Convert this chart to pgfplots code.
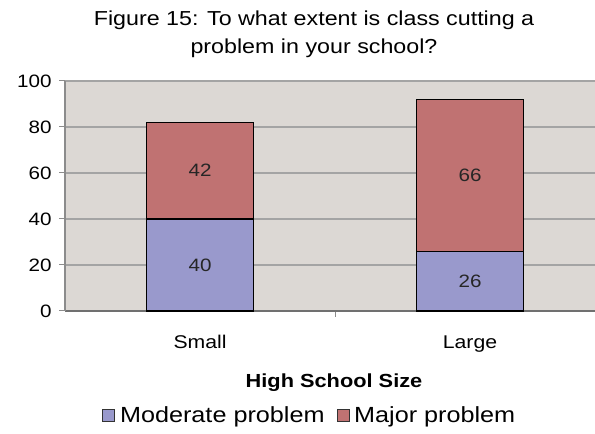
\documentclass[border=0pt]{standalone}
\usepackage{pgfplots}
\pgfplotsset{compat=1.18}
\usepackage{fontspec}
\setmainfont{Liberation Sans}[FakeStretch=1.15]
\definecolor{modc}{HTML}{9999CC}
\definecolor{majc}{HTML}{C07272}
\definecolor{bgc}{HTML}{DCD8D4}
\definecolor{gridc}{HTML}{A4A4A4}
\definecolor{axc}{HTML}{8C8C8C}
\begin{document}
\begin{tikzpicture}[x=1bp,y=1bp]
\useasboundingbox (0,0) rectangle (595,434);
\begin{axis}[
  at={(65bp,123bp)}, anchor=south west,
  scale only axis, width=530bp, height=230bp,
  xmin=-0.5, xmax=1.463, ymin=0, ymax=100,
  ybar stacked, bar width=107bp,
  axis background/.style={fill=bgc},
  axis x line*=bottom, axis y line*=left,
  axis line style={axc, line width=1.3pt},
  x axis line style={draw=axc!80!black},
  tick align=outside,
  ytick={0,20,...,100},
  ymajorgrids, grid style={gridc, line width=1.3pt},
  major tick length=6bp,
  tick style={axc, line width=1pt},
  xtick={0.5}, xticklabels={},
  extra x ticks={0,1}, extra x tick labels={Small,Large},
  extra x tick style={major tick length=0pt, tick style={draw=none}, grid=none, xticklabel style={yshift=-21bp}},
  /pgf/number format/assume math mode=true,
  yticklabel style={font=\fontsize{18}{21}\selectfont, xshift=-4bp},
  xticklabel style={font=\fontsize{18.5}{21}\selectfont},
  legend style={at={(rel axis cs:0.462,-0.455)}, anchor=center, draw=none, fill=none,
    legend columns=-1, font=\fontsize{22}{25}\selectfont,
    /tikz/every even column/.append style={column sep=10bp},
    /tikz/every odd column/.append style={column sep=3bp}},
  legend image code/.code={\draw[#1, draw=black!80, line width=0.6pt, fill] (0bp,-6bp) rectangle (12bp,6bp);},
  clip=false,
]
\addplot[fill=modc, draw=black, line width=1.3pt] coordinates {(0,40) (1,26)};
\addplot[fill=majc, draw=black, line width=1.3pt] coordinates {(0,42) (1,66)};
\legend{Moderate problem, Major problem}
\end{axis}
\begin{axis}[
  at={(65bp,123bp)}, anchor=south west,
  scale only axis, width=530bp, height=230bp,
  xmin=-0.5, xmax=1.463, ymin=0, ymax=100,
  hide axis,
]
\addplot[only marks, mark=none, nodes near coords, point meta=explicit symbolic,
  nodes near coords style={anchor=center, font=\fontsize{18}{21}\selectfont, text=black!85}]
  coordinates {(0,20)[40] (0,61)[42] (1,13)[26] (1,59)[66]};
\end{axis}
\node[align=center, font=\fontsize{20.3}{28}\selectfont] at (314,400) {Figure 15: To what extent is class cutting a\\problem in your school?};
\node[font=\fontsize{19}{22}\selectfont\bfseries] at (334,51) {High School Size};
\end{tikzpicture}
\end{document}
